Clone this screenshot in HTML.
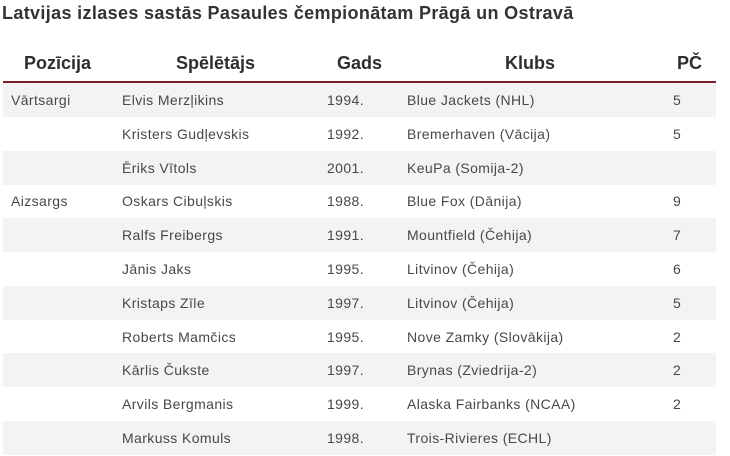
<!DOCTYPE html>
<html><head><meta charset="utf-8"><style>
html,body{margin:0;padding:0;background:#fff;}
body{width:730px;height:456px;position:relative;overflow:hidden;font-family:"Liberation Sans",sans-serif;}
.title{position:absolute;left:2px;top:3px;font-size:18px;font-weight:bold;color:#333;white-space:nowrap;letter-spacing:0.35px;}
.h{position:absolute;top:51px;font-size:18px;font-weight:bold;color:#2e2e2e;white-space:nowrap;line-height:24px;}
.line{position:absolute;left:3px;width:713px;top:81px;height:2px;background:#7b1e2b;}
.row{position:absolute;left:3px;width:713px;height:34px;}
.g{background:#f3f3f3;}
.c{position:absolute;top:0;line-height:34px;font-size:14px;color:#484848;white-space:nowrap;letter-spacing:0.4px;}
</style></head><body>
<div class="title">Latvijas izlases sastās Pasaules čempionātam Prāgā un Ostravā</div>
<div class="h" style="left:24px">Pozīcija</div>
<div class="h" style="left:176px">Spēlētājs</div>
<div class="h" style="left:337px">Gads</div>
<div class="h" style="left:505px">Klubs</div>
<div class="h" style="left:677px">PČ</div>
<div class="line"></div>

<div class="row g" style="top:83px"><div class="c" style="left:8px">Vārtsargi</div><div class="c" style="left:119px">Elvis Merzļikins</div><div class="c" style="left:324px">1994.</div><div class="c" style="left:404px">Blue Jackets (NHL)</div><div class="c" style="left:670px">5</div></div>
<div class="row" style="top:116.8px"><div class="c" style="left:119px">Kristers Gudļevskis</div><div class="c" style="left:324px">1992.</div><div class="c" style="left:404px">Bremerhaven (Vācija)</div><div class="c" style="left:670px">5</div></div>
<div class="row g" style="top:150.6px"><div class="c" style="left:119px">Ēriks Vītols</div><div class="c" style="left:324px">2001.</div><div class="c" style="left:404px">KeuPa (Somija-2)</div></div>
<div class="row" style="top:184.4px"><div class="c" style="left:8px">Aizsargs</div><div class="c" style="left:119px">Oskars Cibuļskis</div><div class="c" style="left:324px">1988.</div><div class="c" style="left:404px">Blue Fox (Dānija)</div><div class="c" style="left:670px">9</div></div>
<div class="row g" style="top:218.2px"><div class="c" style="left:119px">Ralfs Freibergs</div><div class="c" style="left:324px">1991.</div><div class="c" style="left:404px">Mountfield (Čehija)</div><div class="c" style="left:670px">7</div></div>
<div class="row" style="top:252px"><div class="c" style="left:119px">Jānis Jaks</div><div class="c" style="left:324px">1995.</div><div class="c" style="left:404px">Litvinov (Čehija)</div><div class="c" style="left:670px">6</div></div>
<div class="row g" style="top:285.8px"><div class="c" style="left:119px">Kristaps Zīle</div><div class="c" style="left:324px">1997.</div><div class="c" style="left:404px">Litvinov (Čehija)</div><div class="c" style="left:670px">5</div></div>
<div class="row" style="top:319.6px"><div class="c" style="left:119px">Roberts Mamčics</div><div class="c" style="left:324px">1995.</div><div class="c" style="left:404px">Nove Zamky (Slovākija)</div><div class="c" style="left:670px">2</div></div>
<div class="row g" style="top:353.4px"><div class="c" style="left:119px">Kārlis Čukste</div><div class="c" style="left:324px">1997.</div><div class="c" style="left:404px">Brynas (Zviedrija-2)</div><div class="c" style="left:670px">2</div></div>
<div class="row" style="top:387.2px"><div class="c" style="left:119px">Arvils Bergmanis</div><div class="c" style="left:324px">1999.</div><div class="c" style="left:404px">Alaska Fairbanks (NCAA)</div><div class="c" style="left:670px">2</div></div>
<div class="row g" style="top:421px"><div class="c" style="left:119px">Markuss Komuls</div><div class="c" style="left:324px">1998.</div><div class="c" style="left:404px">Trois-Rivieres (ECHL)</div></div>
</body></html>
